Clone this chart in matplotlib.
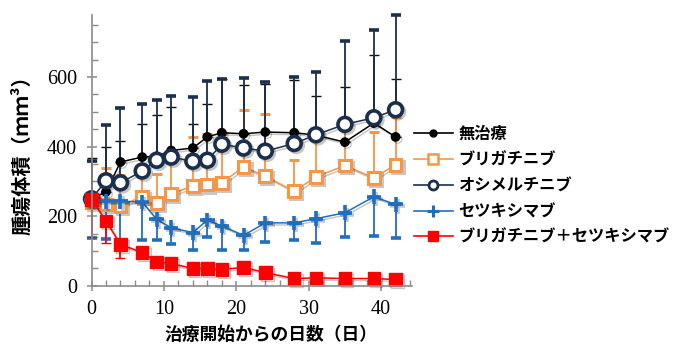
import matplotlib
matplotlib.use("Agg")
import matplotlib.pyplot as plt
from matplotlib.ticker import MultipleLocator
from matplotlib.lines import Line2D
import matplotlib.patheffects as pe

days = [0, 2, 4, 7, 9, 11, 14, 16, 18, 21, 24, 28, 31, 35, 39, 42]

labels = ["無治療", "ブリガチニブ", "オシメルチニブ", "セツキシマブ", "ブリガチニブ＋セツキシマブ"]

untreated = [250, 270, 356, 370, 372, 389, 396, 428, 440, 437, 442, 440, 433, 413, 468, 428]
untreated_err = [116, 129, 60, 96, 118, 125, 70, 95, 153, 139, 139, 152, 112, 158, 194, 165]

brigatinib = [240, 234, 229, 257, 239, 263, 288, 291, 296, 342, 315, 272, 313, 346, 310, 348]
brigatinib_err = [120, 106, 90, 60, 83, 120, 140, 146, 141, 164, 180, 89, 120, 110, 132, 137]

osimertinib = [250, 302, 296, 330, 361, 370, 358, 361, 407, 396, 387, 409, 434, 464, 483, 506]
osimertinib_err = [110, 161, 215, 193, 172, 175, 184, 229, 186, 201, 200, 191, 180, 239, 253, 271]

cetuximab = [248, 243, 243, 241, 191, 167, 153, 189, 172, 145, 181, 181, 193, 210, 256, 234]
cetuximab_err = [111, 107, 112, 110, 60, 48, 50, 48, 70, 42, 55, 50, 70, 69, 113, 96]

combo = [248, 186, 119, 96, 69, 64, 50, 50, 47, 53, 38, 21, 23, 21, 21, 18]
combo_err = [108, 64, 39, 15, 12, 10, 8, 8, 8, 8, 8, 5, 5, 5, 5, 5]

x_ticks = [0, 10, 20, 30, 40]
y_ticks = [0, 200, 400, 600]

cjk = ["Noto Sans CJK JP", "DejaVu Sans"]

fig = plt.figure(figsize=(6.78, 3.6), dpi=100)
ax = fig.add_axes([0.135, 0.206, 0.473, 0.752])

black = "#000000"
orange = "#F79646"
navy = "#1B2F4D"
blue = "#1F6FC0"
red = "#FF0000"

lw = 1.1
cap = 3.3
shadow = [pe.SimpleLineShadow(offset=(1.5, -1.5), alpha=0.22, shadow_color="black"), pe.Normal()]

styles = [
    (untreated, untreated_err, black, "#111111", "o", 6, black, 1, True, 5, black, 1),
    (brigatinib, brigatinib_err, orange, orange, "s", 8.5, "white", 2.2, True, 6.5, "white", 1.8),
    (osimertinib, osimertinib_err, navy, navy, "o", 10, "white", 2.6, True, 6.5, "white", 2.0),
    (cetuximab, cetuximab_err, blue, blue, "+", 10.5, blue, 2.6, False, 8, blue, 2.2),
    (combo, combo_err, red, red, "s", 9, red, 1, False, 7.5, red, 1),
]

handles = []
for (y, err, color, ecolor, marker, ms, mfc, mew, upper, lms, lmfc, lmew), label in zip(styles, labels):
    if upper:
        yerr = [[0] * len(err), err]
    else:
        yerr = [err, [0] * len(err)]
    cont = ax.errorbar(days, y, yerr=yerr, color=color, ecolor=ecolor, elinewidth=1.3,
                       capsize=cap, capthick=1.3, lw=lw, marker=marker, ms=ms, mfc=mfc,
                       mec=color, mew=mew, clip_on=False)
    cont.lines[0].set_path_effects(shadow)
    handles.append(Line2D([], [], color=color, lw=1.2, marker=marker, ms=lms, mfc=lmfc,
                          mec=color, mew=lmew))

ax.set_xlim(0, 44.3)
ax.set_ylim(0, 778)
ax.set_xticks(x_ticks)
ax.set_yticks(y_ticks)
ax.xaxis.set_minor_locator(MultipleLocator(2))
ax.yaxis.set_minor_locator(MultipleLocator(50))
for s in ["top", "right"]:
    ax.spines[s].set_visible(False)
for s in ["left", "bottom"]:
    ax.spines[s].set_color("#8c8c8c")
    ax.spines[s].set_linewidth(1.2)
ax.tick_params(which="major", direction="inout", length=7, width=1.1, color="#8c8c8c")
ax.tick_params(which="minor", direction="in", length=4, width=1.0, color="#8c8c8c")
ax.tick_params(axis="x", which="major", pad=7)
ax.tick_params(axis="y", which="major", pad=7)
for t in ax.get_xticklabels() + ax.get_yticklabels():
    t.set_fontfamily("Liberation Serif")
    t.set_fontsize(14.5)

fig.text(0.032, 0.582, "腫瘍体積（ｍｍ³）", rotation=90, ha="center", va="center",
         fontsize=14.5, fontweight="bold", family=cjk)
fig.text(0.40, 0.07, "治療開始からの日数（日）", ha="center", va="center",
         fontsize=12.8, fontweight="bold", family=cjk)

ax.legend(handles, labels, loc="upper left", bbox_to_anchor=(0.610, 0.650),
          bbox_transform=fig.transFigure, frameon=False, handlelength=2.4,
          handletextpad=0.35, labelspacing=0.6, borderpad=0, borderaxespad=0,
          prop={"family": cjk, "weight": "bold", "size": 11.7})

fig.savefig("out.png", dpi=100)
